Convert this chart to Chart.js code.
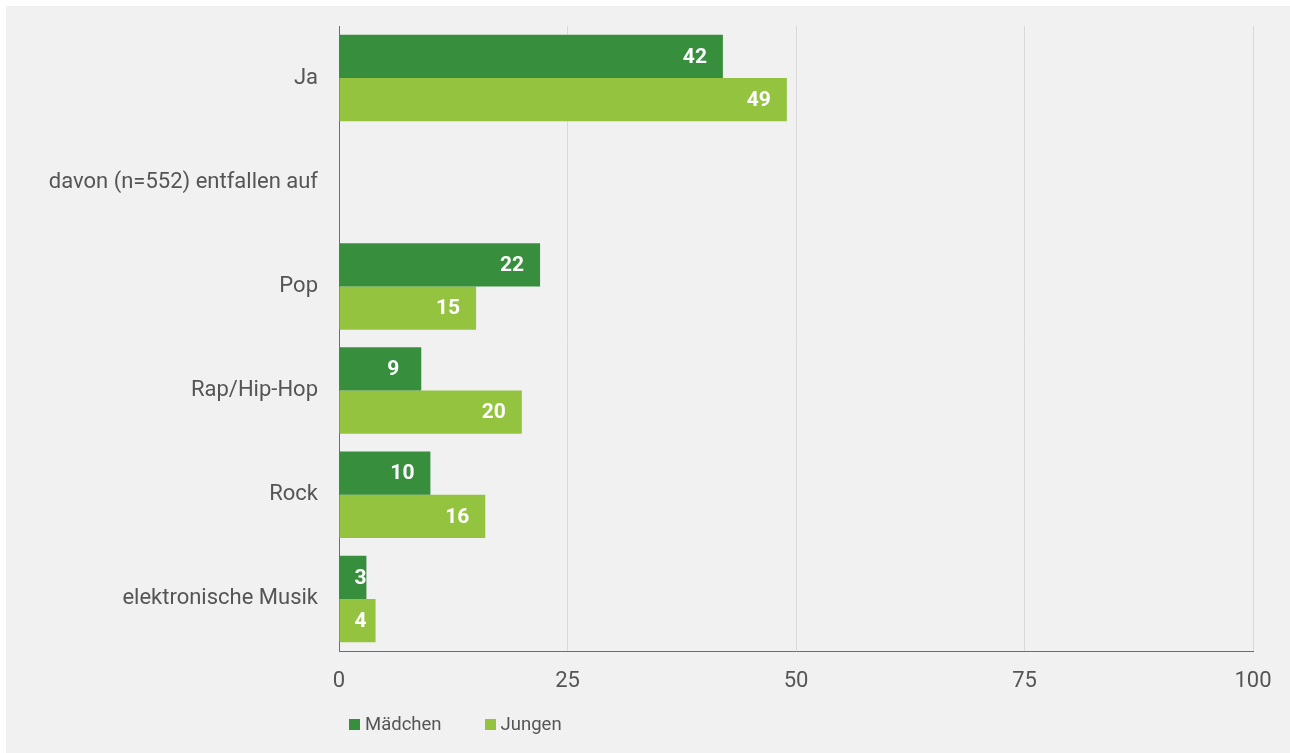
<!DOCTYPE html>
<html>
<head>
<meta charset="utf-8">
<script src="https://cdn.jsdelivr.net/npm/chart.js@4.4.1/dist/chart.umd.min.js"></script>
<style>
  html, body { margin: 0; padding: 0; background: #ffffff; width: 1290px; height: 753px; overflow: hidden; }
  #panel { position: absolute; left: 6px; top: 6px; right: 0; bottom: 0; background: #f1f1f1; }
  #wrap { position: absolute; left: 0; top: 0; width: 1290px; height: 753px; }
  #legend { position: absolute; left: 349px; top: 713px; display: flex; font-family: Roboto, "Noto Sans", sans-serif; font-size: 18.5px; color: #555555; }
  .item { display: flex; align-items: center; margin-right: 43px; }
  .box { width: 11px; height: 11px; margin-right: 5px; }
</style>
</head>
<body>
<div id="panel"></div>
<div id="wrap"><canvas id="c" width="1290" height="753"></canvas></div>
<div id="legend"></div>
<script>
const categories = ["Ja", "davon (n=552) entfallen auf", "Pop", "Rap/Hip-Hop", "Rock", "elektronische Musik"];
const seriesNames = ["Mädchen", "Jungen"];
const maedchen = [42, null, 22, 9, 10, 3];
const jungen = [49, null, 15, 20, 16, 4];
const xTicks = [0, 25, 50, 75, 100];
const colors = ["#378e3d", "#93c33f"];

const FONT = 'Roboto, "Noto Sans", sans-serif';
const TEXT = '#555555';

const labelPlugin = {
  id: 'barLabels',
  afterDatasetsDraw(chart) {
    const ctx = chart.ctx;
    ctx.save();
    ctx.font = 'bold 21px ' + FONT;
    ctx.fillStyle = '#ffffff';
    ctx.textAlign = 'center';
    ctx.textBaseline = 'middle';
    chart.data.datasets.forEach((ds, i) => {
      const meta = chart.getDatasetMeta(i);
      meta.data.forEach((bar, j) => {
        const v = ds.data[j];
        if (v === null || v === undefined) return;
        const start = bar.base;
        const end = bar.x;
        const cx = Math.max(end - 28, start + 21);
        ctx.fillText(String(v), cx, bar.y + 1);
      });
    });
    ctx.restore();
  }
};

const chart = new Chart(document.getElementById('c'), {
  type: 'bar',
  data: {
    labels: categories,
    datasets: [
      { label: seriesNames[0], data: maedchen, backgroundColor: colors[0], borderWidth: 0 },
      { label: seriesNames[1], data: jungen, backgroundColor: colors[1], borderWidth: 0 }
    ]
  },
  options: {
    indexAxis: 'y',
    responsive: false,
    animation: false,
    layout: { padding: { top: 26, right: 37, bottom: 42, left: 0 } },
    datasets: { bar: { categoryPercentage: 0.83, barPercentage: 1.0 } },
    plugins: {
      legend: { display: false },
      tooltip: { enabled: false }
    },
    scales: {
      x: {
        min: 0, max: 100,
        afterBuildTicks(s) { s.ticks = xTicks.map(v => ({ value: v })); },
        afterFit(s) { s.height = 60; },
        grid: { color: '#d9d9d9', lineWidth: 1, drawTicks: false },
        border: { display: true, color: '#6e6e6e', width: 1 },
        ticks: { color: TEXT, font: { family: FONT, size: 22 }, padding: 17 }
      },
      y: {
        afterFit(s) { s.width = 339; s.paddingTop = 0; s.paddingBottom = 0; },
        grid: { display: false, drawTicks: false },
        border: { display: true, color: '#6e6e6e', width: 1 },
        ticks: { color: TEXT, font: { family: FONT, size: 22 }, padding: 21 }
      }
    }
  },
  plugins: [labelPlugin]
});

const legend = document.getElementById('legend');
seriesNames.forEach((name, i) => {
  const item = document.createElement('div');
  item.className = 'item';
  const box = document.createElement('span');
  box.className = 'box';
  box.style.background = colors[i];
  const txt = document.createElement('span');
  txt.textContent = name;
  item.appendChild(box);
  item.appendChild(txt);
  legend.appendChild(item);
});
</script>
</body>
</html>
